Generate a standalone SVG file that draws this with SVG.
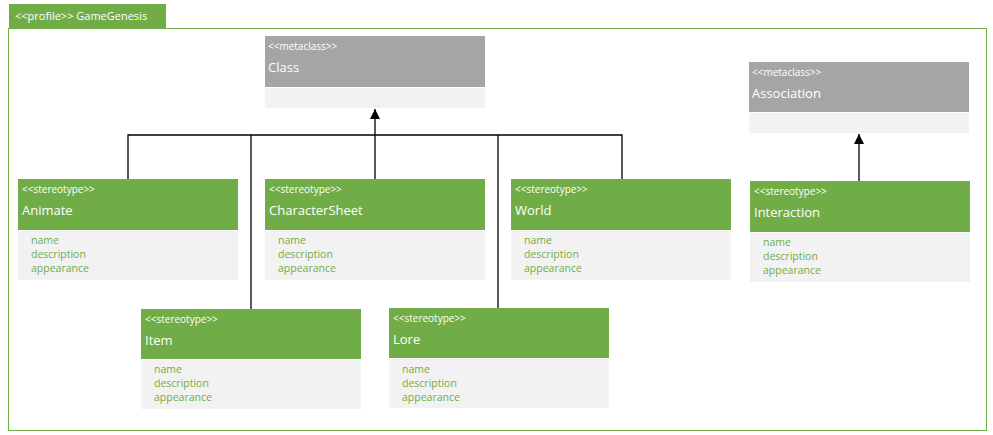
<svg xmlns="http://www.w3.org/2000/svg" width="993" height="435" viewBox="0 0 993 435">
<defs>
<style>
text{font-family:"Open Sans","Noto Sans","DejaVu Sans",sans-serif;}
.hdrG{fill:#70ad47;}
.hdrM{fill:#a5a5a5;}
.body{fill:#f2f2f2;}
.st{fill:#ffffff;font-size:10px;}
.nm{fill:#ffffff;font-size:13px;}
.at{fill:#70ad47;font-size:10.5px;}
.ln{stroke:#000;stroke-width:1.3;fill:none;}
</style>
<marker id="tri" markerWidth="10" markerHeight="10" refX="8" refY="4" viewBox="0 0 8 8" orient="auto" markerUnits="userSpaceOnUse">
<path d="M0,0 L8,4 L0,8 Z" fill="#000"/>
</marker>
</defs>
<rect width="993" height="435" fill="#ffffff"/>
<g id="profile">
<rect x="9" y="4" width="157" height="24" fill="#70ad47"/>
<text x="15" y="20" fill="#ffffff" font-size="11">&lt;&lt;profile&gt;&gt; GameGenesis</text>
<rect x="8.5" y="28.5" width="978" height="402" fill="none" stroke="#70ad47" stroke-width="1"/>
</g>
<g id="connectors">
<polyline class="ln" points="128,179 128,135 622,135 622,179"/>
<line class="ln" x1="251" y1="135" x2="251" y2="309"/>
<line class="ln" x1="498" y1="135" x2="498" y2="308"/>
<line class="ln" x1="375" y1="179" x2="375" y2="109" marker-end="url(#tri)"/>
<line class="ln" x1="859" y1="181" x2="859" y2="134" marker-end="url(#tri)"/>
</g>
<g id="Class">
<rect class="hdrM" x="265" y="36" width="220" height="51"/>
<rect class="body" x="265" y="88" width="220" height="20"/>
<text class="st" x="268" y="50">&lt;&lt;metaclass&gt;&gt;</text>
<text class="nm" x="268" y="72">Class</text>
</g>
<g id="Association">
<rect class="hdrM" x="749" y="62" width="220" height="50"/>
<rect class="body" x="749" y="113" width="220" height="20"/>
<text class="st" x="752" y="76">&lt;&lt;metaclass&gt;&gt;</text>
<text class="nm" x="752" y="98">Association</text>
</g>
<g id="Animate">
<rect class="hdrG" x="18" y="179" width="220" height="51"/>
<rect class="body" x="18" y="231" width="220" height="49"/>
<text class="st" x="22" y="193">&lt;&lt;stereotype&gt;&gt;</text>
<text class="nm" x="22" y="215">Animate</text>
<text class="at" x="31" y="244">name</text>
<text class="at" x="31" y="258">description</text>
<text class="at" x="31" y="272">appearance</text>
</g>
<g id="CharacterSheet">
<rect class="hdrG" x="265" y="179" width="220" height="51"/>
<rect class="body" x="265" y="231" width="220" height="49"/>
<text class="st" x="269" y="193">&lt;&lt;stereotype&gt;&gt;</text>
<text class="nm" x="269" y="215">CharacterSheet</text>
<text class="at" x="278" y="244">name</text>
<text class="at" x="278" y="258">description</text>
<text class="at" x="278" y="272">appearance</text>
</g>
<g id="World">
<rect class="hdrG" x="511" y="179" width="220" height="51"/>
<rect class="body" x="511" y="231" width="220" height="49"/>
<text class="st" x="515" y="193">&lt;&lt;stereotype&gt;&gt;</text>
<text class="nm" x="515" y="215">World</text>
<text class="at" x="524" y="244">name</text>
<text class="at" x="524" y="258">description</text>
<text class="at" x="524" y="272">appearance</text>
</g>
<g id="Interaction">
<rect class="hdrG" x="750" y="181" width="220" height="51"/>
<rect class="body" x="750" y="233" width="220" height="49"/>
<text class="st" x="754" y="195">&lt;&lt;stereotype&gt;&gt;</text>
<text class="nm" x="754" y="217">Interaction</text>
<text class="at" x="763" y="246">name</text>
<text class="at" x="763" y="260">description</text>
<text class="at" x="763" y="274">appearance</text>
</g>
<g id="Item">
<rect class="hdrG" x="141" y="309" width="220" height="50"/>
<rect class="body" x="141" y="360" width="220" height="49"/>
<text class="st" x="145" y="323">&lt;&lt;stereotype&gt;&gt;</text>
<text class="nm" x="145" y="345">Item</text>
<text class="at" x="154" y="373">name</text>
<text class="at" x="154" y="387">description</text>
<text class="at" x="154" y="401">appearance</text>
</g>
<g id="Lore">
<rect class="hdrG" x="389" y="308" width="220" height="50"/>
<rect class="body" x="389" y="359" width="220" height="49"/>
<text class="st" x="393" y="322">&lt;&lt;stereotype&gt;&gt;</text>
<text class="nm" x="393" y="344">Lore</text>
<text class="at" x="402" y="373">name</text>
<text class="at" x="402" y="387">description</text>
<text class="at" x="402" y="401">appearance</text>
</g>
</svg>
